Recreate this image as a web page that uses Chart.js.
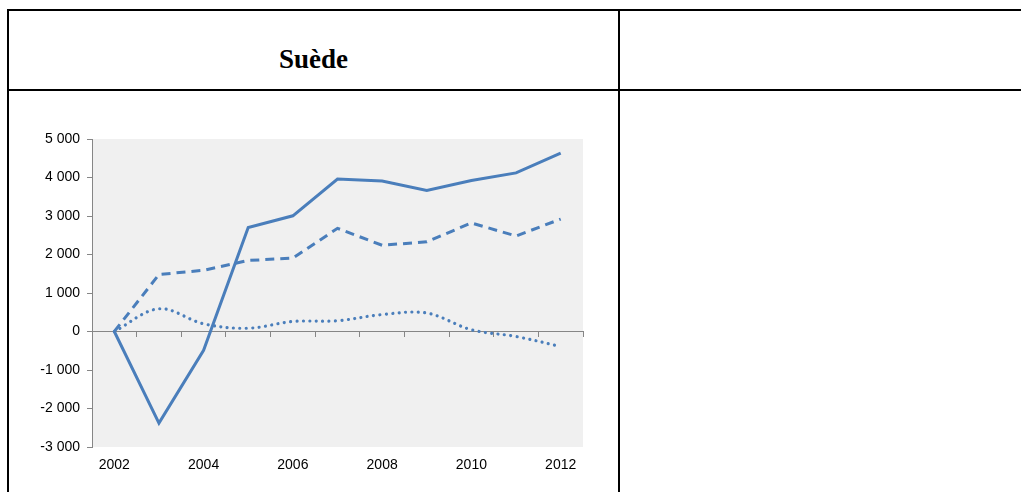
<!DOCTYPE html>
<html lang="fr">
<head>
  <meta charset="UTF-8">
  <title>Suède</title>
  <script src="https://cdn.jsdelivr.net/npm/chart.js"></script>
  <style>
    html, body { margin: 0; padding: 0; background: #fff; overflow: hidden; }
    body { width: 1021px; height: 492px; position: relative; font-family: "Liberation Sans", Arial, sans-serif; }
    .rule { position: absolute; background: #000; }
    #title {
      position: absolute; left: 9px; top: 20px; width: 609px; height: 78px;
      font-family: "Liberation Serif", "Times New Roman", serif; font-weight: bold; font-size: 27px;
      display: flex; align-items: center; justify-content: center;
    }
    #box { position: absolute; left: 0; top: 100px; width: 615px; height: 392px; }
  </style>
</head>
<body>
  <div class="rule" style="left:7px; top:9px; width:1014px; height:2px;"></div>
  <div class="rule" style="left:7px; top:89px; width:1014px; height:2px;"></div>
  <div class="rule" style="left:7px; top:9px; width:2px; height:483px;"></div>
  <div class="rule" style="left:618px; top:9px; width:2px; height:483px;"></div>
  <div id="title">Suède</div>
  <div id="box"><canvas id="chart"></canvas></div>

  <script>
    const years = ['2002', '2003', '2004', '2005', '2006', '2007', '2008', '2009', '2010', '2011', '2012'];
    const solidSeries  = [0, -2380, -490, 2700, 3005, 3960, 3910, 3665, 3920, 4120, 4630];
    const dashedSeries = [0, 1480, 1590, 1845, 1905, 2680, 2240, 2330, 2820, 2480, 2920];
    const dottedSeries = [0, 590, 200, 85, 260, 280, 440, 480, 45, -130, -390];
    const yTicks = [-3000, -2000, -1000, 0, 1000, 2000, 3000, 4000, 5000];

    const blue = '#4a7ebb';
    const axisGray = '#868686';

    // grey plot background
    const plotBg = {
      id: 'plotBg',
      beforeDraw(chart) {
        const a = chart.chartArea, c = chart.ctx;
        c.save();
        c.fillStyle = '#f0f0f0';
        c.fillRect(a.left, a.top, a.right - a.left, a.bottom - a.top);
        c.restore();
      }
    };

    function fmt(v) {
      const s = String(Math.abs(v)).replace(/\B(?=(\d{3})+(?!\d))/g, ' ');
      return (v < 0 ? '-' : '') + s;
    }

    Chart.defaults.font.family = '"Liberation Sans", Arial, sans-serif';
    Chart.defaults.font.size = 14;
    Chart.defaults.color = '#000';

    new Chart(document.getElementById('chart'), {
      type: 'line',
      data: {
        labels: years,
        datasets: [
          { data: solidSeries, borderColor: blue, borderWidth: 3, tension: 0, pointRadius: 0 },
          { data: dashedSeries, borderColor: blue, borderWidth: 3, borderDash: [9, 6], tension: 0, pointRadius: 0 },
          { data: dottedSeries, borderColor: blue, borderWidth: 3.2, borderDash: [0.01, 6.4], borderCapStyle: 'round', tension: 0.35, pointRadius: 0 }
        ]
      },
      options: {
        responsive: true,
        maintainAspectRatio: false,
        animation: false,
        layout: { padding: { top: 39, right: 32, bottom: 15, left: 0 } },
        plugins: { legend: { display: false }, tooltip: { enabled: false } },
        scales: {
          x: {
            offset: true,
            border: { display: false },
            grid: { display: false, drawTicks: false },
            ticks: {
              autoSkip: false, maxRotation: 0, padding: 10,
              callback: (v, i) => (i % 2 === 0 ? years[i] : '')
            },
            afterFit: s => { s.height = 30; }
          },
          x0: {
            type: 'category',
            axis: 'x',
            position: { y: 0 },
            offset: true,
            border: { display: true, color: axisGray, width: 1 },
            grid: { drawOnChartArea: false, drawTicks: true, tickLength: 5, color: axisGray, offset: true },
            ticks: { display: false }
          },
          y: {
            min: -3000,
            max: 5000,
            afterBuildTicks: s => { s.ticks = yTicks.map(v => ({ value: v })); },
            border: { display: true, color: axisGray, width: 1 },
            grid: { drawOnChartArea: false, drawTicks: true, tickLength: 5, color: axisGray },
            ticks: { padding: 7, callback: v => fmt(v) },
            afterFit: s => { s.width = 92; }
          }
        }
      },
      plugins: [plotBg]
    });
  </script>
</body>
</html>
